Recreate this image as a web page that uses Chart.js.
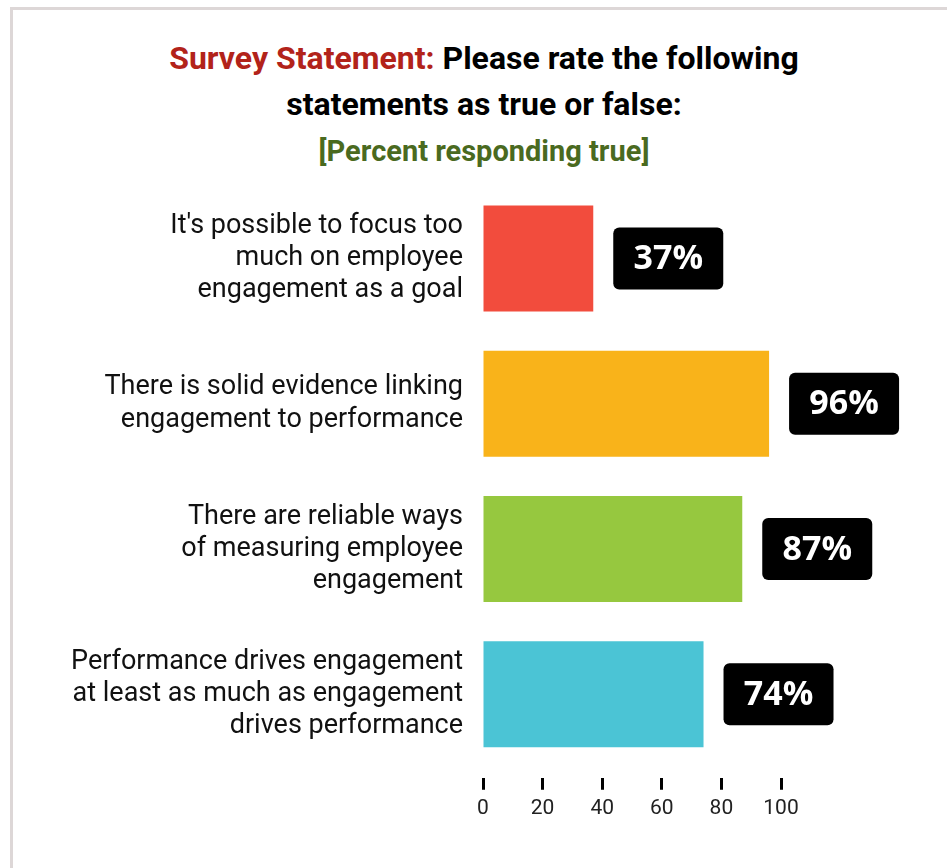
<!DOCTYPE html>
<html>
<head>
<meta charset="utf-8">
<script src="https://cdn.jsdelivr.net/npm/chart.js@4"></script>
<style>
    html, body { margin: 0; padding: 0; background: #fff; overflow: hidden; }
    .frame {
        position: absolute; left: 10px; top: 7px; width: 2000px; height: 2000px;
        border-left: 3px solid #ddd7d7; border-top: 3px solid #ddd7d7;
    }
    .title {
        position: absolute; left: 0; width: 968px; top: 35px; text-align: center;
        font-family: Roboto, sans-serif; font-weight: 700; font-size: 32px; line-height: 46px;
        color: #000;
    }
    .title .lead { color: #b2231a; }
    .title .sub { color: #4a6a1f; font-size: 29px; }
    #wrap { position: absolute; left: 0; top: 0; width: 947px; height: 868px; }
</style>
</head>
<body>
<div class="frame"></div>
<div class="title">
    <span class="lead">Survey Statement:</span> Please rate the following<br>
    statements as true or false:<br>
    <span class="sub">[Percent responding true]</span>
</div>
<div id="wrap"><canvas id="surveyChart"></canvas></div>
<script>
const statements = [
    ["It's possible to focus too", "much on employee", "engagement as a goal"],
    ["There is solid evidence linking", "engagement to performance"],
    ["There are reliable ways", "of measuring employee", "engagement"],
    ["Performance drives engagement", "at least as much as engagement", "drives performance"]
];
const percentTrue = [37, 96, 87, 74];
const barColors = ['#f24c3d', '#f9b31a', '#96c83f', '#4bc4d5'];
const axisTicks = [0, 20, 40, 60, 80, 100];

// black rounded boxes with the value, placed just past each bar end
const valueBoxes = {
    id: 'valueBoxes',
    afterDatasetsDraw(chart) {
        const ctx = chart.ctx;
        const meta = chart.getDatasetMeta(0);
        ctx.save();
        meta.data.forEach((bar, i) => {
            const w = 110, h = 62;
            const x = bar.x + 20, y = bar.y - h / 2;
            ctx.fillStyle = '#000';
            ctx.beginPath();
            ctx.roundRect(x, y, w, h, 6);
            ctx.fill();
            ctx.fillStyle = '#fff';
            ctx.font = 'bold 34px "Open Sans", sans-serif';
            ctx.textAlign = 'center';
            ctx.textBaseline = 'middle';
            ctx.fillText(percentTrue[i] + '%', x + w / 2, bar.y + 1);
        });
        ctx.restore();
    }
};

new Chart(document.getElementById('surveyChart'), {
    type: 'bar',
    data: {
        labels: statements,
        datasets: [{
            data: percentTrue,
            backgroundColor: barColors,
            barPercentage: 0.73,
            categoryPercentage: 1
        }]
    },
    options: {
        indexAxis: 'y',
        responsive: true,
        maintainAspectRatio: false,
        animation: false,
        layout: {
            padding: { top: 186, right: 166, bottom: 41, left: 0 }
        },
        plugins: {
            legend: { display: false },
            tooltip: { enabled: false }
        },
        scales: {
            x: {
                min: 0,
                max: 100,
                afterBuildTicks: scale => {
                    scale.ticks = axisTicks.map(v => ({ value: v }));
                },
                border: { display: false },
                grid: {
                    drawOnChartArea: false,
                    drawTicks: true,
                    tickLength: 23,
                    tickWidth: 3,
                    tickColor: '#000',
                    tickBorderDash: [0, 11, 12, 100]
                },
                ticks: {
                    padding: 6,
                    color: '#222',
                    font: { family: 'Roboto', size: 21 }
                }
            },
            y: {
                afterFit: scale => { scale.width = 483; },
                border: { display: false },
                grid: { display: false, drawTicks: false },
                ticks: {
                    padding: 20,
                    color: '#111',
                    font: { family: 'Roboto', size: 27, lineHeight: 1.19 }
                }
            }
        }
    },
    plugins: [valueBoxes]
});
</script>
</body>
</html>
